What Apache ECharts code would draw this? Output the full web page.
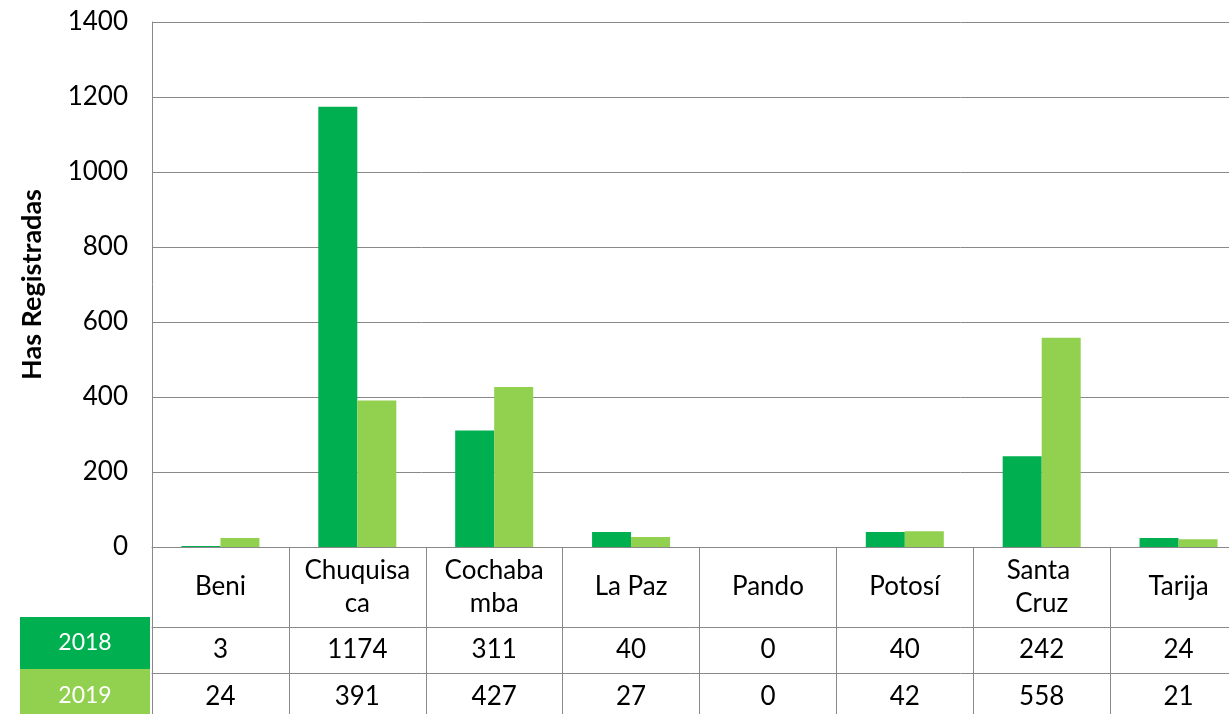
<!DOCTYPE html>
<html>
<head>
<meta charset="utf-8">
<script src="https://cdn.jsdelivr.net/npm/echarts@6/dist/echarts.min.js"></script>
<style>
  html, body { margin: 0; padding: 0; background: #fff; }
  #chart { width: 1229px; height: 714px; }
</style>
</head>
<body>
<div id="chart"></div>
<script>
const categories = ["Beni", "Chuquisaca", "Cochabamba", "La Paz", "Pando", "Potosí", "Santa Cruz", "Tarija"];
const seriesNames = ["2018", "2019"];
const values2018 = [3, 1174, 311, 40, 0, 40, 242, 24];
const values2019 = [24, 391, 427, 27, 0, 42, 558, 21];
const yTicks = { min: 0, max: 1400, interval: 200 };

const colors = ["#00B050", "#92D050"];
const gridColor = "#898989";
const font = "Lato";
const fontSize = 26;

const chart = echarts.init(document.getElementById("chart"));

function tableAxis(data, offset, margin) {
  return {
    type: "category",
    data: data.map(String),
    position: "bottom",
    offset: offset,
    axisLine: { show: true, lineStyle: { color: gridColor, width: 1 } },
    axisTick: { show: false },
    axisLabel: {
      interval: 0,
      margin: margin,
      verticalAlign: "middle",
      color: "#000",
      fontFamily: font,
      fontSize: fontSize
    }
  };
}

const option = {
  animation: false,
  color: colors,
  // the plot runs a little past the right edge of the picture
  grid: { left: 152, right: -18, top: 22, bottom: 167, outerBoundsMode: "none", containLabel: false },
  xAxis: [
    {
      type: "category",
      data: categories,
      axisLine: { lineStyle: { color: gridColor, width: 1 } },
      axisTick: { show: true, interval: 0, length: 167, lineStyle: { color: gridColor } },
      axisLabel: {
        interval: 0,
        margin: 40,
        verticalAlign: "middle",
        width: 112,
        overflow: "break",
        lineHeight: 33,
        color: "#000",
        fontFamily: font,
        fontSize: fontSize
      }
    },
    tableAxis(values2018, 80, 23),
    tableAxis(values2019, 126, 24)
  ],
  yAxis: {
    type: "value",
    min: yTicks.min,
    max: yTicks.max,
    interval: yTicks.interval,
    name: "Has Registradas",
    nameLocation: "middle",
    nameRotate: 90,
    nameGap: 106,
    nameTextStyle: { color: "#000", fontFamily: font, fontSize: 27, fontWeight: "bold" },
    axisLine: { show: true, lineStyle: { color: gridColor, width: 1 } },
    axisTick: { show: false },
    splitLine: { lineStyle: { color: gridColor, width: 1 } },
    axisLabel: {
      margin: 24, color: "#000", fontFamily: font, fontSize: fontSize,
      formatter: function (v) { return String(v); }
    }
  },
  series: [
    { name: seriesNames[0], type: "bar", data: values2018, barGap: "0%", barCategoryGap: "43%" },
    { name: seriesNames[1], type: "bar", data: values2019, barGap: "0%", barCategoryGap: "43%" }
  ],
  graphic: seriesNames.map(function (name, i) {
    return {
      type: "group",
      left: 20,
      top: i === 0 ? 617 : 669,
      children: [
        { type: "rect", shape: { x: 0, y: 0, width: 130, height: i === 0 ? 52 : 45 }, style: { fill: colors[i] } },
        {
          type: "text",
          style: {
            x: 65, y: i === 0 ? 26 : 27, text: name, align: "center", verticalAlign: "middle",
            fill: "#fff", fontFamily: font, fontSize: 23
          }
        }
      ]
    };
  })
};

chart.setOption(option);
</script>
</body>
</html>
